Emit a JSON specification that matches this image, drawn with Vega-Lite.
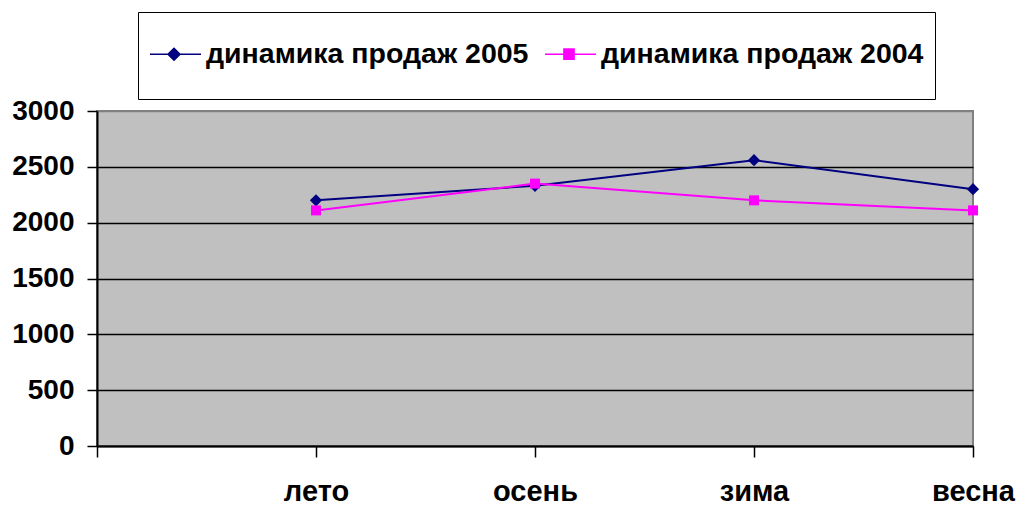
{
  "$schema": "https://vega.github.io/schema/vega-lite/v6.json",
  "width": 876,
  "height": 335,
  "autosize": {"type": "none"},
  "padding": {"left": 97, "top": 111, "right": 44, "bottom": 59},
  "background": "white",
  "data": {
    "values": [
      {"season": "лето", "series": "динамика продаж 2005", "value": 2200},
      {"season": "осень", "series": "динамика продаж 2005", "value": 2330},
      {"season": "зима", "series": "динамика продаж 2005", "value": 2560},
      {"season": "весна", "series": "динамика продаж 2005", "value": 2300},
      {"season": "лето", "series": "динамика продаж 2004", "value": 2110},
      {"season": "осень", "series": "динамика продаж 2004", "value": 2350},
      {"season": "зима", "series": "динамика продаж 2004", "value": 2200},
      {"season": "весна", "series": "динамика продаж 2004", "value": 2110}
    ]
  },
  "encoding": {
    "x": {
      "field": "season",
      "type": "ordinal",
      "scale": {"type": "point", "domain": ["", "лето", "осень", "зима", "весна"], "padding": 0},
      "axis": {
        "title": null,
        "labelAngle": 0,
        "grid": false,
        "domainColor": "black",
        "domainWidth": 2,
        "tickColor": "black",
        "tickWidth": 1.5,
        "tickSize": 11,
        "labelPadding": 20,
        "labelFont": "Liberation Sans",
        "labelFontWeight": "bold",
        "labelFontSize": 29,
        "labelColor": "black",
        "labelOverlap": false,
        "labelBound": false
      }
    },
    "y": {
      "field": "value",
      "type": "quantitative",
      "scale": {"domain": [0, 3000], "nice": false, "zero": true},
      "axis": {
        "title": null,
        "format": "d",
        "values": [0, 500, 1000, 1500, 2000, 2500, 3000],
        "grid": true,
        "gridColor": {"condition": {"test": "datum.value === 3000", "value": "#808080"}, "value": "black"},
        "gridWidth": 1.5,
        "domainColor": "black",
        "domainWidth": 2,
        "tickColor": "black",
        "tickWidth": 1.5,
        "tickSize": 10,
        "labelPadding": 13,
        "labelFont": "Liberation Sans",
        "labelFontWeight": "bold",
        "labelFontSize": 28,
        "labelColor": "black"
      }
    },
    "color": {
      "field": "series",
      "type": "nominal",
      "scale": {"domain": ["динамика продаж 2005", "динамика продаж 2004"], "range": ["#000080", "#FF00FF"]},
      "legend": {
        "orient": "none",
        "legendX": 41,
        "legendY": -99,
        "direction": "horizontal",
        "title": null,
        "strokeColor": "black",
        "fillColor": "white",
        "padding": 11,
        "labelFont": "Liberation Sans",
        "labelFontWeight": "bold",
        "labelFontSize": 28.5,
        "labelColor": "black",
        "labelLimit": 0,
        "labelOffset": -5,
        "columnPadding": 13,
        "symbolSize": 3600,
        "symbolStrokeWidth": 1.5,
        "encode": {
          "symbols": {
            "update": {
              "shape": {"signal": "datum.value === 'динамика продаж 2005' ? 'M-1,-1.02L-1,-1.02M-1,1.02L-1,1.02M-1,0L0.7,0M-0.2,-0.2L0,0L-0.2,0.2L-0.4,0Z' : 'M-1,-1.02L-1,-1.02M-1,1.02L-1,1.02M-1,0L0.7,0M-0.37,-0.17L-0.03,-0.17L-0.03,0.17L-0.37,0.17Z'"},
              "fill": {"scale": "color", "field": "value"},
              "stroke": {"scale": "color", "field": "value"},
              "strokeWidth": {"value": 1.5},
              "opacity": {"value": 1}
            }
          }
        }
      }
    }
  },
  "layer": [
    {"mark": {"type": "line", "strokeWidth": 2}},
    {
      "transform": [{"filter": "datum.series === 'динамика продаж 2005'"}],
      "mark": {"type": "point", "shape": "diamond", "filled": true, "size": 150, "opacity": 1}
    },
    {
      "transform": [{"filter": "datum.series === 'динамика продаж 2004'"}],
      "mark": {"type": "point", "shape": "square", "filled": true, "size": 100, "opacity": 1}
    }
  ],
  "config": {
    "view": {"fill": "#C0C0C0", "stroke": "#808080", "strokeWidth": 2}
  }
}
